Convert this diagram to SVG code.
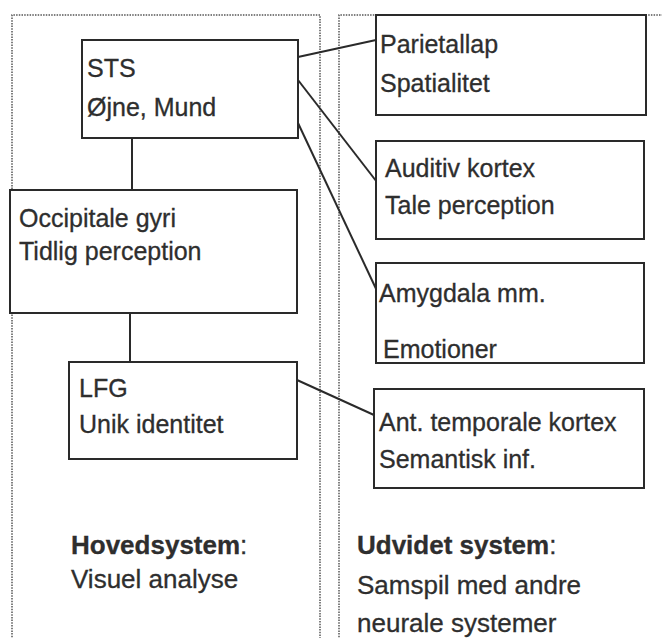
<svg xmlns="http://www.w3.org/2000/svg" width="662" height="638" viewBox="0 0 662 638">
<style>
.panel{fill:none;stroke:#555;stroke-width:1.5;stroke-dasharray:1.5 1.2}
.box{fill:#fff;stroke:#2a2a2a;stroke-width:2}
.conn{fill:none;stroke:#2a2a2a;stroke-width:2}
text{font-family:"Liberation Sans",Arial,sans-serif;font-size:25px;fill:#2e2e2e;stroke:#2e2e2e;stroke-width:0.3}
.big{font-size:26px}
.b{font-weight:bold}
</style>
<rect width="662" height="638" fill="#fff"/>
<g id="panels">
<path class="panel" d="M12,640 V15 H320 V640"/>
<path class="panel" d="M339,640 V15 H664"/>
</g>
<g id="connectors">
<line class="conn" x1="132" y1="138" x2="132" y2="190"/>
<line class="conn" x1="130" y1="313" x2="130" y2="362"/>
<line class="conn" x1="298" y1="57" x2="376" y2="40"/>
<line class="conn" x1="298" y1="80" x2="380" y2="186"/>
<line class="conn" x1="298" y1="123" x2="378" y2="293"/>
<line class="conn" x1="297" y1="380" x2="374" y2="415"/>
</g>
<g id="sts">
<rect class="box" x="82" y="40" width="216" height="98"/>
<text x="87" y="77">STS</text>
<text x="87" y="116">Øjne, Mund</text>
</g>
<g id="occipital">
<rect class="box" x="10" y="190" width="287" height="123"/>
<text x="19" y="227">Occipitale gyri</text>
<text x="19" y="260">Tidlig perception</text>
</g>
<g id="lfg">
<rect class="box" x="69" y="362" width="228" height="97"/>
<text x="79" y="397">LFG</text>
<text x="79" y="433">Unik identitet</text>
</g>
<g id="parietal">
<rect class="box" x="376" y="15" width="270" height="100"/>
<text x="380" y="53">Parietallap</text>
<text x="380" y="92">Spatialitet</text>
</g>
<g id="auditiv">
<rect class="box" x="376" y="141" width="268" height="98"/>
<text x="385" y="177">Auditiv kortex</text>
<text x="385" y="214">Tale perception</text>
</g>
<g id="amygdala">
<rect class="box" x="376" y="263" width="268" height="100"/>
<text x="379" y="302">Amygdala mm.</text>
<text x="383" y="358">Emotioner</text>
</g>
<g id="antemporal">
<rect class="box" x="374" y="389" width="270" height="99"/>
<text x="379" y="431">Ant. temporale kortex</text>
<text x="379" y="468">Semantisk inf.</text>
</g>
<g id="hovedsystem">
<text class="big" x="71" y="554"><tspan class="b">Hovedsystem</tspan>:</text>
<text class="big" x="71" y="588">Visuel analyse</text>
</g>
<g id="udvidet">
<text class="big" x="357" y="554"><tspan class="b">Udvidet system</tspan>:</text>
<text class="big" x="357" y="594">Samspil med andre</text>
<text class="big" x="357" y="632">neurale systemer</text>
</g>
</svg>
